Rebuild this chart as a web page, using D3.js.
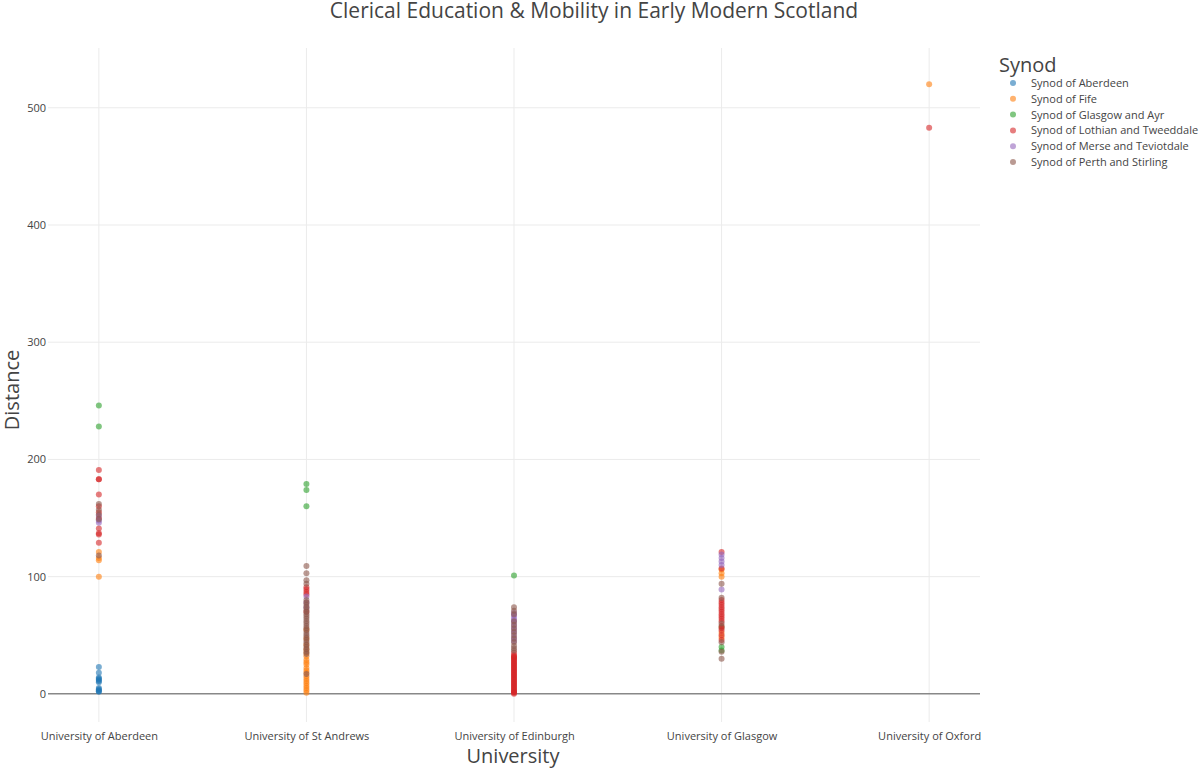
<!DOCTYPE html>
<html>
<head>
<meta charset="utf-8">
<script src="https://cdn.jsdelivr.net/npm/d3@7"></script>
<style>
  body { margin: 0; background: #fff; }
  text { font-family: "Open Sans", "DejaVu Sans", sans-serif; }
</style>
</head>
<body>
<div id="plot"></div>
<script>
const universities = ["University of Aberdeen", "University of St Andrews", "University of Edinburgh", "University of Glasgow", "University of Oxford"];
const synods = ["Synod of Aberdeen", "Synod of Fife", "Synod of Glasgow and Ayr", "Synod of Lothian and Tweeddale", "Synod of Merse and Teviotdale", "Synod of Perth and Stirling"];
const synodColors = ["#1f77b4", "#ff7f0e", "#2ca02c", "#d62728", "#9467bd", "#8c564b"];
const yTicks = [0, 100, 200, 300, 400, 500];

// distances per university (same order as universities), one array per synod
const synodAberdeen = [
    [23, 18, 14, 13, 12, 11, 10, 5, 4, 3, 2, 2],
    [], [], [], []
];
const synodFife = [
    [121, 116, 114, 100],
    [1, 3, 5, 7, 9, 11, 13, 15, 18, 20, 22, 25, 27, 29, 32, 35, 38, 42, 47, 55],
    [31],
    [106, 103, 100, 52, 48],
    [520]
];
const synodGlasgow = [
    [246, 228],
    [179, 174, 160],
    [101],
    [40, 37, 57],
    []
];
const synodLothian = [
    [191, 183, 183, 170, 160, 155, 150, 141, 137, 136, 129],
    [91, 89, 87, 85, 70],
    [0, 1, 1.5, 2, 3, 4, 5, 6, 7, 8, 9, 10, 11, 12, 13, 14, 15, 16, 17, 18, 19, 20, 21, 22, 23, 24, 25, 26, 27, 28, 29, 30, 31, 32, 33, 35],
    [121, 107, 80, 78, 76, 74, 72, 70, 68, 66, 64, 62, 58, 56, 54, 50, 46],
    [483]
];
const synodMerse = [
    [152, 148, 146],
    [83, 78, 74],
    [69, 67, 65, 63, 61, 58, 55, 52, 48, 45],
    [119, 116, 113, 110, 89],
    []
];
const synodPerth = [
    [162, 157, 153, 149, 118],
    [109, 103, 97, 94, 80, 78, 76, 74, 72, 70, 68, 66, 64, 62, 60, 58, 56, 54, 52, 50, 48, 46, 44, 42, 40, 38, 36, 34, 17],
    [74, 71, 68, 62, 59, 56, 53, 50, 47, 44, 41, 39, 37],
    [94, 82, 60, 44, 36, 30],
    []
];
const seriesValues = [synodAberdeen, synodFife, synodGlasgow, synodLothian, synodMerse, synodPerth];

const width = 1200, height = 768;
const plotLeft = 48, plotRight = 980, plotTop = 48, plotBottom = 722;

const svg = d3.select("#plot").append("svg")
    .attr("width", width)
    .attr("height", height);

const x = d3.scalePoint()
    .domain(universities)
    .range([plotLeft, plotRight])
    .padding(0.245);

const y = d3.scaleLinear()
    .domain([-24, 551])
    .range([plotBottom, plotTop]);

// grid
svg.append("g")
    .selectAll("line")
    .data(yTicks.filter(t => t !== 0))
    .enter()
    .append("line")
    .attr("x1", plotLeft).attr("x2", plotRight)
    .attr("y1", d => y(d)).attr("y2", d => y(d))
    .style("stroke", "#ebebeb")
    .style("stroke-width", 1);

svg.append("g")
    .selectAll("line")
    .data(universities)
    .enter()
    .append("line")
    .attr("x1", d => x(d)).attr("x2", d => x(d))
    .attr("y1", plotTop).attr("y2", plotBottom)
    .style("stroke", "#ebebeb")
    .style("stroke-width", 1);

// zero line
svg.append("line")
    .attr("x1", plotLeft).attr("x2", plotRight)
    .attr("y1", y(0)).attr("y2", y(0))
    .style("stroke", "#888")
    .style("stroke-width", 1.5);

// axes
const yAxis = svg.append("g")
    .attr("transform", `translate(${plotLeft - 2},0)`)
    .call(d3.axisLeft(y).tickValues(yTicks).tickSize(0).tickPadding(0));
yAxis.select(".domain").remove();
yAxis.selectAll("text")
    .style("font-size", "11px")
    .style("fill", "#444")
    .style("font-family", "'Open Sans', sans-serif");

const xAxis = svg.append("g")
    .attr("transform", `translate(0,${plotBottom + 6})`)
    .call(d3.axisBottom(x).tickSize(0).tickPadding(4));
xAxis.select(".domain").remove();
xAxis.selectAll("text")
    .style("font-size", "11px")
    .style("fill", "#444")
    .style("font-family", "'Open Sans', sans-serif");

// points
seriesValues.forEach((series, si) => {
    const pts = [];
    series.forEach((vals, ui) => {
        vals.forEach(v => pts.push({ u: universities[ui], v: v }));
    });
    svg.append("g")
        .selectAll("circle")
        .data(pts)
        .enter()
        .append("circle")
        .attr("cx", d => x(d.u))
        .attr("cy", d => y(d.v))
        .attr("r", 3)
        .style("fill", synodColors[si])
        .style("opacity", 0.6);
});

// title
svg.append("text")
    .attr("x", 594)
    .attr("y", 18)
    .attr("text-anchor", "middle")
    .style("font-size", "21px")
    .style("fill", "#444")
    .text("Clerical Education & Mobility in Early Modern Scotland");

// axis titles
svg.append("text")
    .attr("x", 513)
    .attr("y", 763)
    .attr("text-anchor", "middle")
    .style("font-size", "20px")
    .style("fill", "#444")
    .text("University");

svg.append("text")
    .attr("transform", "translate(19,390) rotate(-90)")
    .attr("text-anchor", "middle")
    .style("font-size", "20px")
    .style("fill", "#444")
    .text("Distance");

// legend
const legend = svg.append("g")
    .attr("transform", "translate(999,0)");

legend.append("text")
    .attr("x", 0)
    .attr("y", 72)
    .style("font-size", "20px")
    .style("fill", "#444")
    .text("Synod");

const items = legend.selectAll(".item")
    .data(synods)
    .enter()
    .append("g")
    .attr("class", "item")
    .attr("transform", (d, i) => `translate(0,${83 + i * 15.8})`);

items.append("circle")
    .attr("cx", 14)
    .attr("cy", 0)
    .attr("r", 3)
    .style("fill", (d, i) => synodColors[i])
    .style("opacity", 0.6);

items.append("text")
    .attr("x", 32)
    .attr("y", 4)
    .style("font-size", "11px")
    .style("fill", "#444")
    .text(d => d);
</script>
</body>
</html>
